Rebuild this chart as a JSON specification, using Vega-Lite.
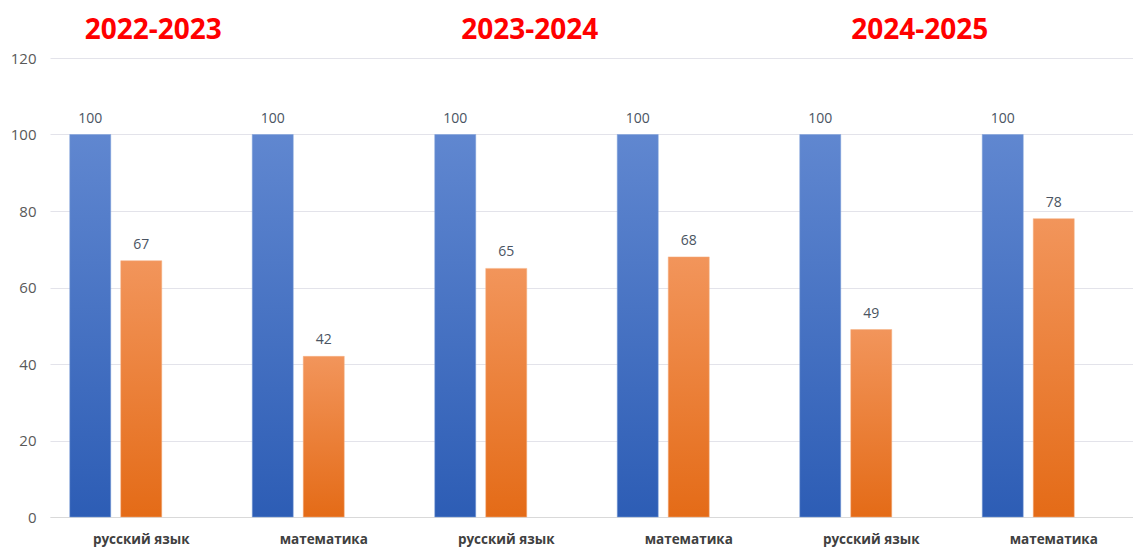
{
  "$schema": "https://vega.github.io/schema/vega-lite/v6.json",
  "width": 1095,
  "height": 459,
  "autosize": {"type": "none"},
  "padding": {"left": 50, "top": 58, "right": 0, "bottom": 30},
  "background": "white",
  "config": {"view": {"stroke": null}, "font": "Open Sans"},
  "datasets": {
    "bars": [
      {"key": "2022-2023|русский язык", "series": "A", "value": 100},
      {"key": "2022-2023|русский язык", "series": "B", "value": 67},
      {"key": "2022-2023|математика", "series": "A", "value": 100},
      {"key": "2022-2023|математика", "series": "B", "value": 42},
      {"key": "2023-2024|русский язык", "series": "A", "value": 100},
      {"key": "2023-2024|русский язык", "series": "B", "value": 65},
      {"key": "2023-2024|математика", "series": "A", "value": 100},
      {"key": "2023-2024|математика", "series": "B", "value": 68},
      {"key": "2024-2025|русский язык", "series": "A", "value": 100},
      {"key": "2024-2025|русский язык", "series": "B", "value": 49},
      {"key": "2024-2025|математика", "series": "A", "value": 100},
      {"key": "2024-2025|математика", "series": "B", "value": 78}
    ],
    "titles": [
      {"key": "2022-2023|русский язык", "label": "2022-2023", "pos": 127},
      {"key": "2023-2024|русский язык", "label": "2023-2024", "pos": 127},
      {"key": "2024-2025|русский язык", "label": "2024-2025", "pos": 127}
    ]
  },
  "encoding": {
    "x": {
      "field": "key",
      "type": "nominal",
      "sort": null,
      "scale": {"paddingInner": 0, "paddingOuter": 0},
      "axis": {
        "title": null,
        "labelExpr": "split(datum.label, '|')[1]",
        "labelAngle": 0,
        "labelFont": "Open Sans",
        "labelFontWeight": "bold",
        "labelFontSize": 13.5,
        "labelColor": "#404040",
        "labelPadding": 15,
        "ticks": false,
        "domain": true,
        "domainColor": "#D9D9D9",
        "grid": false
      }
    },
    "y": {
      "field": "value",
      "type": "quantitative",
      "scale": {"domain": [0, 120], "nice": false},
      "axis": {
        "title": null,
        "values": [0, 20, 40, 60, 80, 100, 120],
        "labelFont": "Open Sans",
        "labelFontSize": 15,
        "labelColor": "#595959",
        "labelPadding": 14,
        "ticks": false,
        "domain": false,
        "gridColor": "#E3E3EA",
        "gridWidth": 1
      }
    }
  },
  "layer": [
    {
      "data": {"name": "bars"},
      "transform": [{"filter": "datum.series === 'A'"}],
      "mark": {
        "type": "bar",
        "fill": {
          "gradient": "linear", "x1": 0, "y1": 0, "x2": 0, "y2": 1,
          "stops": [{"offset": 0, "color": "#6087D0"}, {"offset": 1, "color": "#2D5DB5"}]
        },
        "stroke": "#7FA0DA",
        "strokeWidth": 0.5
      },
      "encoding": {
        "xOffset": {"field": "series", "type": "nominal", "scale": {"domain": ["A", "B", "C"], "paddingInner": 0.196, "paddingOuter": 0.387}}
      }
    },
    {
      "data": {"name": "bars"},
      "transform": [{"filter": "datum.series === 'B'"}],
      "mark": {
        "type": "bar",
        "fill": {
          "gradient": "linear", "x1": 0, "y1": 0, "x2": 0, "y2": 1,
          "stops": [{"offset": 0, "color": "#F2955B"}, {"offset": 1, "color": "#E46B17"}]
        },
        "stroke": "#F4B183",
        "strokeWidth": 0.5
      },
      "encoding": {
        "xOffset": {"field": "series", "type": "nominal", "scale": {"domain": ["A", "B", "C"], "paddingInner": 0.196, "paddingOuter": 0.387}}
      }
    },
    {
      "data": {"name": "bars"},
      "mark": {"type": "text", "dy": -16, "fontSize": 14, "color": "#4A5462", "font": "Open Sans"},
      "encoding": {
        "xOffset": {"field": "series", "type": "nominal", "scale": {"domain": ["A", "B", "C"], "paddingInner": 0.196, "paddingOuter": 0.387}},
        "text": {"field": "value", "type": "quantitative"}
      }
    },
    {
      "data": {"name": "titles"},
      "transform": [{"filter": "datum.label === '2022-2023'"}],
      "mark": {"type": "text", "dx": 12, "fontSize": 28, "fontWeight": "bold", "color": "#FF0000", "baseline": "middle", "font": "Open Sans"},
      "encoding": {"y": {"field": "pos", "type": "quantitative"}, "text": {"field": "label"}}
    },
    {
      "data": {"name": "titles"},
      "transform": [{"filter": "datum.label === '2023-2024'"}],
      "mark": {"type": "text", "dx": 23.5, "fontSize": 28, "fontWeight": "bold", "color": "#FF0000", "baseline": "middle", "font": "Open Sans"},
      "encoding": {"y": {"field": "pos", "type": "quantitative"}, "text": {"field": "label"}}
    },
    {
      "data": {"name": "titles"},
      "transform": [{"filter": "datum.label === '2024-2025'"}],
      "mark": {"type": "text", "dx": 48.5, "fontSize": 28, "fontWeight": "bold", "color": "#FF0000", "baseline": "middle", "font": "Open Sans"},
      "encoding": {"y": {"field": "pos", "type": "quantitative"}, "text": {"field": "label"}}
    }
  ]
}
